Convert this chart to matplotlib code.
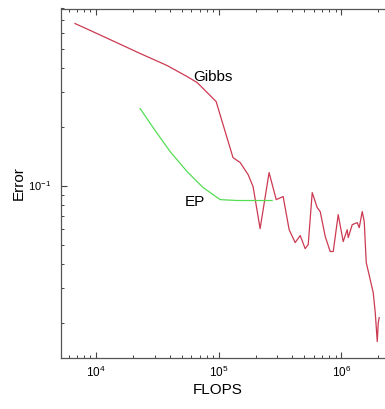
import matplotlib
matplotlib.use("Agg")
import matplotlib.pyplot as plt
from matplotlib.ticker import LogLocator, NullFormatter

plt.rcParams['font.family'] = ['Liberation Sans', 'DejaVu Sans']
plt.rcParams['mathtext.fontset'] = 'custom'
plt.rcParams['mathtext.rm'] = 'Liberation Sans'
plt.rcParams['mathtext.it'] = 'Liberation Sans'
plt.rcParams['axes.unicode_minus'] = False

# Gibbs sampler error vs FLOPS
gibbs_flops = [6740, 8290, 13000, 22900, 38000, 55300, 66800, 90200, 95400,
               131000, 150000, 174000, 191000, 218000, 258000, 295000, 336000,
               376000, 421000, 463000, 508000, 538000, 580000, 637000, 674000,
               741000, 813000, 861000, 945000, 1038000, 1119000, 1141000,
               1230000, 1351000, 1403000, 1484000, 1541000, 1600000, 1725000,
               1825000, 1895000, 1968000, 2005000, 2043000]
gibbs_error = [0.6705, 0.6324, 0.5557, 0.4717, 0.4095, 0.3598, 0.3353, 0.2779,
               0.2683, 0.1389, 0.1310, 0.1138, 0.0988, 0.0603, 0.1165, 0.0848,
               0.0879, 0.0596, 0.0512, 0.0556, 0.0477, 0.0500, 0.0921, 0.0772,
               0.0737, 0.0549, 0.0461, 0.0461, 0.0711, 0.0518, 0.0596, 0.0543,
               0.0632, 0.0647, 0.0610, 0.0737, 0.0655, 0.0405, 0.0331, 0.0284,
               0.0225, 0.0160, 0.0200, 0.0212]

# EP error vs FLOPS
ep_flops = [22900, 29200, 40190, 55300, 74700, 102900, 141600, 273400]
ep_error = [0.2471, 0.1976, 0.1491, 0.1179, 0.0977, 0.0848, 0.0839, 0.0839]

labels = ["Gibbs", "EP"]
xlabel = "FLOPS"
ylabel = "Error"

W, H = 385, 409
fig = plt.figure(figsize=(W / 100, H / 100), dpi=100)
left_px, right_px, top_px, bottom_px = 61, 390, 8.5, 358
ax = fig.add_axes([left_px / W, 1 - bottom_px / H,
                   (right_px - left_px) / W, (bottom_px - top_px) / H])

ax.plot(gibbs_flops, gibbs_error, color='#cc3a52', lw=0.9)
ax.plot(ep_flops, ep_error, color='#55dd55', lw=0.9)

ax.set_xscale('log')
ax.set_yscale('log')
ax.set_xlim(5180, 2.5e6)
ax.set_ylim(0.0132, 0.8)

ax.text(6.19e4, 0.3598, labels[0], fontsize=11, ha='left', va='center')
ax.text(5.33e4, 0.0829, labels[1], fontsize=11, ha='left', va='center')

ax.xaxis.set_major_locator(LogLocator(base=10, numticks=10))
ax.xaxis.set_minor_locator(LogLocator(base=10, subs=range(2, 10), numticks=20))
ax.yaxis.set_major_locator(LogLocator(base=10, numticks=10))
ax.yaxis.set_minor_locator(LogLocator(base=10, subs=range(2, 10), numticks=20))
ax.yaxis.set_minor_formatter(NullFormatter())
ax.xaxis.set_minor_formatter(NullFormatter())

ax.tick_params(which='both', direction='in', top=True, right=False,
               colors='#444444', labelcolor='black', labelsize=8.5)
ax.tick_params(axis='y', labelsize=8)
ax.tick_params(which='major', length=4, width=0.8)
ax.tick_params(which='minor', length=2.5, width=0.7)
ax.tick_params(axis='x', pad=5)
ax.tick_params(axis='y', pad=7)
for s in ax.spines.values():
    s.set_color('#555555')
    s.set_linewidth(0.9)

ax.set_xlabel(xlabel, fontsize=11)
ax.set_ylabel(ylabel, fontsize=11)
ax.xaxis.set_label_coords((218 - left_px) / (right_px - left_px), -0.072)
ax.yaxis.set_label_coords((26 - left_px) / (right_px - left_px), 0.5)

fig.savefig('out.png', dpi=100)
